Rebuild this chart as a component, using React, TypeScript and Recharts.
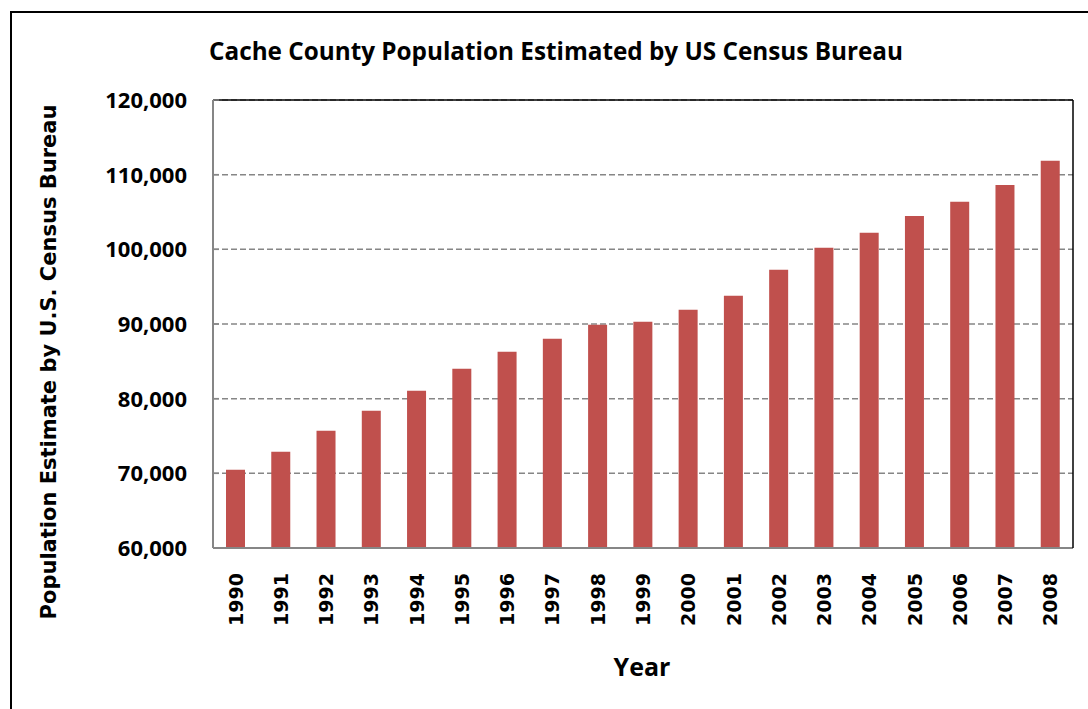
import { Bar, BarChart, CartesianGrid, XAxis, YAxis } from "recharts";

const years = [
  "1990", "1991", "1992", "1993", "1994", "1995", "1996", "1997", "1998", "1999",
  "2000", "2001", "2002", "2003", "2004", "2005", "2006", "2007", "2008",
];

const population = [
  70480, 72890, 75700, 78380, 81060, 84000, 86280, 88020, 89890, 90290,
  91900, 93780, 97260, 100200, 102210, 104480, 106360, 108630, 111850,
];

const yTicks = [60000, 70000, 80000, 90000, 100000, 110000, 120000];

const data = years.map((year, i) => ({ year, population: population[i] }));

const calibriLike = "'Open Sans', 'Noto Sans', sans-serif";
const verdanaLike = "'DejaVu Sans', Verdana, sans-serif";

const formatNumber = (value: number) => value.toLocaleString("en-US");

const YTick = (props: any) => {
  const { x, y, payload } = props;
  return (
    <g>
      <line x1={x + 26} x2={x + 32} y1={y} y2={y} stroke="#868686" strokeWidth={1.5} />
      <text
        x={x}
        y={y}
        dy={8}
        textAnchor="end"
        fontFamily={calibriLike}
        fontWeight={700}
        fontSize={22}
        fill="#000"
      >
        {formatNumber(payload.value)}
      </text>
    </g>
  );
};

const XTick = (props: any) => {
  const { x, y, payload } = props;
  return (
    <g transform={`translate(${x},${y}) rotate(-90)`}>
      <text
        x={0}
        y={7}
        textAnchor="end"
        fontFamily={verdanaLike}
        fontWeight={700}
        fontSize={19}
        fill="#000"
      >
        {payload.value}
      </text>
    </g>
  );
};

export default function App() {
  return (
    <div
      style={{
        position: "absolute",
        left: 0,
        top: 0,
        width: 1088,
        height: 709,
        overflow: "hidden",
        background: "#fff",
      }}
    >
      {/* outer chart frame, runs off the right and bottom edges */}
      <div
        style={{
          position: "absolute",
          left: 10,
          top: 11,
          width: 1100,
          height: 720,
          border: "2px solid #000",
        }}
      />

      <div style={{ position: "absolute", left: 0, top: 0 }}>
        <BarChart
          width={1088}
          height={709}
          data={data}
          margin={{ top: 99, right: 14, left: 113, bottom: 101 }}
        >
          <CartesianGrid
            vertical={false}
            stroke="#868686"
            strokeDasharray="6 3"
            strokeWidth={1.5}
          />
          <XAxis
            dataKey="year"
            height={60}
            interval={0}
            tickLine={false}
            tickSize={0}
            tickMargin={25}
            axisLine={{ stroke: "#868686", strokeWidth: 2 }}
            tick={<XTick />}
          />
          <XAxis
            xAxisId="top"
            orientation="top"
            dataKey="year"
            height={1}
            tick={false}
            tickLine={false}
            axisLine={{ stroke: "#000", strokeWidth: 1.5 }}
          />
          <YAxis
            width={100}
            domain={[60000, 120000]}
            ticks={yTicks}
            interval={0}
            tickLine={false}
            tickSize={0}
            tickMargin={26}
            axisLine={{ stroke: "#868686", strokeWidth: 2 }}
            tick={<YTick />}
          />
          <YAxis
            yAxisId="right"
            orientation="right"
            width={1}
            domain={[60000, 120000]}
            tick={false}
            tickLine={false}
            axisLine={{ stroke: "#000", strokeWidth: 1.5 }}
          />
          <Bar
            dataKey="population"
            fill="#C0504D"
            barSize={19}
            isAnimationActive={false}
          />
        </BarChart>
      </div>

      <svg
        width={1088}
        height={709}
        style={{ position: "absolute", left: 0, top: 0, pointerEvents: "none" }}
      >
        <text
          x={209}
          y={59.5}
          textLength={694}
          lengthAdjust="spacingAndGlyphs"
          fontFamily={calibriLike}
          fontWeight={700}
          fontSize={25}
          fill="#000"
        >
          Cache County Population Estimated by US Census Bureau
        </text>
        <text
          x={642}
          y={675.5}
          textAnchor="middle"
          fontFamily={calibriLike}
          fontWeight={700}
          fontSize={25}
          fill="#000"
        >
          Year
        </text>
        <text
          transform="translate(55.5,362) rotate(-90)"
          x={0}
          y={0}
          textAnchor="middle"
          fontFamily={verdanaLike}
          fontWeight={700}
          fontSize={21}
          fill="#000"
        >
          Population Estimate by U.S. Census Bureau
        </text>
      </svg>
    </div>
  );
}
